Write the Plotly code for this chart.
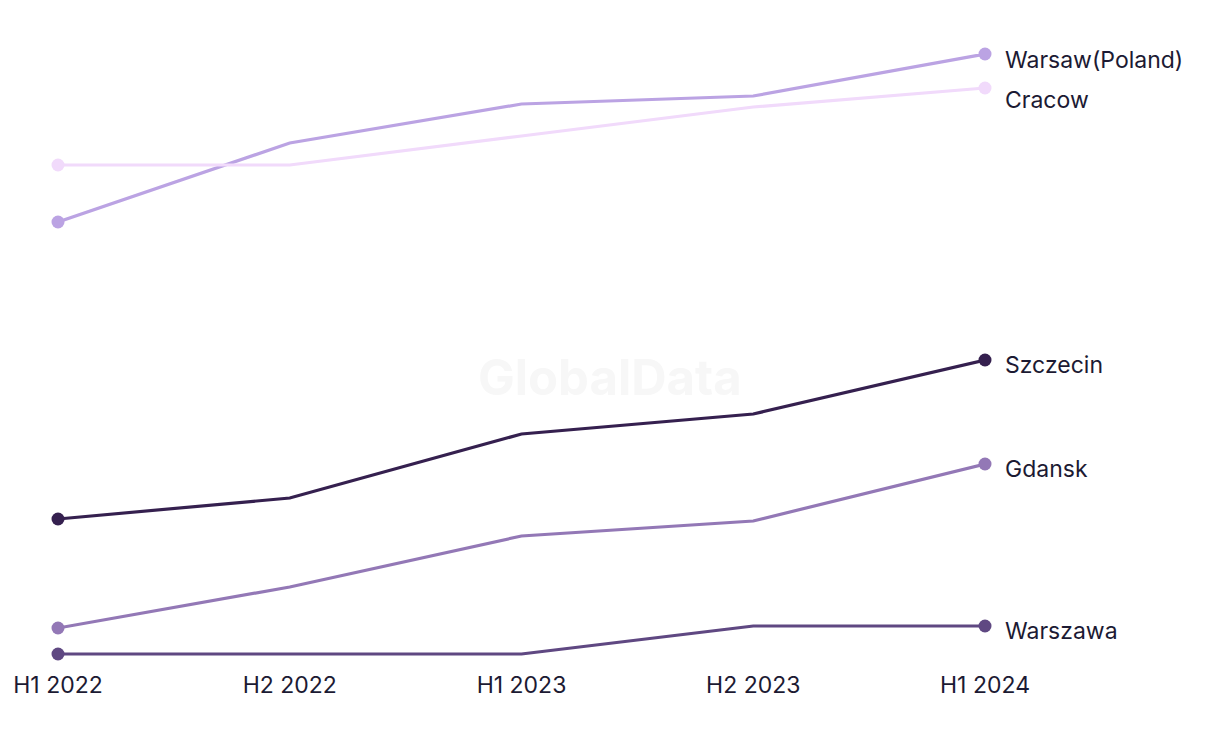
import plotly.graph_objects as go

# periods on the x axis
periods = ["H1 2022", "H2 2022", "H1 2023", "H2 2023", "H1 2024"]

# series values (no y axis shown)
warsaw_poland = [43.2, 51.1, 55.0, 55.8, 60.0]
cracow = [48.9, 48.9, 51.8, 54.7, 56.6]
szczecin = [13.5, 15.6, 22.0, 24.0, 29.4]
gdansk = [2.6, 6.7, 11.8, 13.3, 19.0]
warszawa = [0.0, 0.0, 0.0, 2.8, 2.8]

series = [
    ("Warsaw(Poland)", warsaw_poland, "#bba3e3", -6),
    ("Cracow", cracow, "#f1dafb", -12),
    ("Szczecin", szczecin, "#35204f", -5),
    ("Gdansk", gdansk, "#9378b6", -5),
    ("Warszawa", warszawa, "#5f4882", -5),
]

x_idx = list(range(len(periods)))

fig = go.Figure()

for name, vals, col, shift in series:
    fig.add_trace(go.Scatter(
        x=x_idx, y=vals, name=name, mode="lines",
        line=dict(color=col, width=3.2),
        cliponaxis=False, showlegend=False,
    ))
    # dots only at the ends
    fig.add_trace(go.Scatter(
        x=[x_idx[0], x_idx[-1]], y=[vals[0], vals[-1]], mode="markers",
        marker=dict(color=col, size=13),
        cliponaxis=False, showlegend=False, hoverinfo="skip",
    ))
    fig.add_annotation(
        x=x_idx[-1], y=vals[-1], text=name, showarrow=False,
        xanchor="left", xshift=18, yshift=shift,
        font=dict(size=23, color="#1c1a33"),
    )

# watermark
fig.add_annotation(
    x=0.595, y=0.47, xref="paper", yref="paper", text="<b>GlobalData</b>",
    showarrow=False, font=dict(size=49, color="#f7f7f7"),
)

# page body has an 8px margin, so everything is nudged up/left by 8
# y range goes a bit below 0 so the bottom line isn't clipped
fig.update_layout(
    width=1220, height=744,
    margin=dict(l=50, r=243, t=46, b=88, autoexpand=False),
    paper_bgcolor="white", plot_bgcolor="white",
    font=dict(family="Inter, Lato, sans-serif", color="#1c1a33"),
    xaxis=dict(
        range=[0, 4], tickvals=x_idx, ticktext=periods,
        showgrid=False, zeroline=False, showline=False,
        tickfont=dict(size=23, color="#1c1a33"),
        ticklabelstandoff=5, automargin=False,
    ),
    yaxis=dict(
        range=[-1, 60], visible=False, showgrid=False, zeroline=False,
        automargin=False,
    ),
)

fig.write_html("out.html")
